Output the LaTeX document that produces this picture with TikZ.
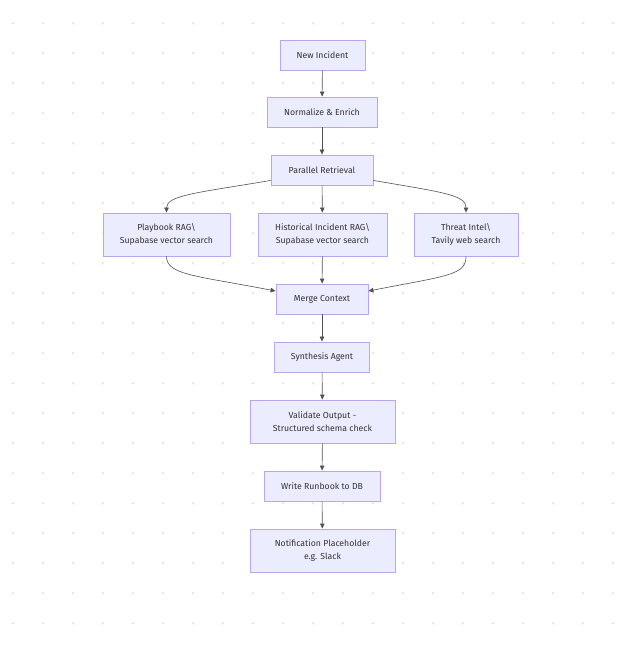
\documentclass[tikz,border=0pt]{standalone}
\usepackage{fontspec}
\setmainfont{Fira Sans}
\usetikzlibrary{arrows.meta}
\definecolor{nodefill}{HTML}{ECECFF}
\definecolor{nodeborder}{HTML}{BBA6EB}
\definecolor{edgecol}{HTML}{333333}
\definecolor{dotcol}{HTML}{E8E8E8}
\tikzset{
  box/.style={draw=nodeborder, fill=nodefill, line width=0.9pt, text=edgecol,
    font=\fontsize{8.7}{13}\selectfont, align=center, inner sep=0pt},
  link/.style={draw=edgecol!85, line width=0.6pt, -{Triangle[width=4.5pt,length=5pt]}}
}
\begin{document}
\begin{tikzpicture}[x=1pt,y=-1pt]
\useasboundingbox (0,0) rectangle (627,646);
\fill[white] (0,0) rectangle (627,646);
\foreach \i in {0,...,20}{
  \foreach \j in {0,...,20}{
    \fill[dotcol] (13+30*\i,23+30*\j) circle (1.5pt);
  }
}
\node[box, minimum width=85pt, minimum height=30pt] (a) at (322.5,55) {New Incident};
\node[box, minimum width=110pt, minimum height=30pt] (b) at (322,112) {Normalize \& Enrich};
\node[box, minimum width=102pt, minimum height=30pt] (c) at (322,170) {Parallel Retrieval};
\node[box, minimum width=127pt, minimum height=43pt] (d) at (166.5,234.5) {Playbook RAG\textbackslash\\Supabase vector search};
\node[box, minimum width=129pt, minimum height=43pt] (e) at (322.5,234.5) {Historical Incident RAG\textbackslash\\Supabase vector search};
\node[box, minimum width=104pt, minimum height=43pt] (f) at (466,234.5) {Threat Intel\textbackslash\\Tavily web search};
\node[box, minimum width=92pt, minimum height=30pt] (g) at (322,299) {Merge Context};
\node[box, minimum width=95pt, minimum height=30pt] (h) at (322,357) {Synthesis Agent};
\node[box, minimum width=145pt, minimum height=43pt] (i) at (322.5,421.5) {Validate Output -\\Structured schema check};
\node[box, minimum width=116pt, minimum height=30pt] (j) at (322,486) {Write Runbook to DB};
\node[box, minimum width=145pt, minimum height=43pt] (k) at (322.5,550.5) {Notification Placeholder\\e.g. Slack};

\draw[link] (a) -- (b);
\draw[link] (b) -- (c);
\draw[link] (c) -- (e);
\draw[link] (e) -- (g);
\draw[link] (g) -- (h);
\draw[link] (h) -- (i);
\draw[link] (i) -- (j);
\draw[link] (j) -- (k);
\draw[link] (c.south west) ++(0,-5) coordinate (cl)
  (cl) .. controls (200,192.5) and (166.5,195) .. (d.north);
\draw[link] (c.south east) ++(0,-5) coordinate (cr)
  (cr) .. controls (444,192.5) and (466,195) .. (f.north);
\draw[link] (d.south) .. controls (166.5,275) and (196,275.6) .. (g.west |- 0,291);
\draw[link] (f.south) .. controls (466,275) and (448,275.6) .. (g.east |- 0,291);
\end{tikzpicture}
\end{document}
